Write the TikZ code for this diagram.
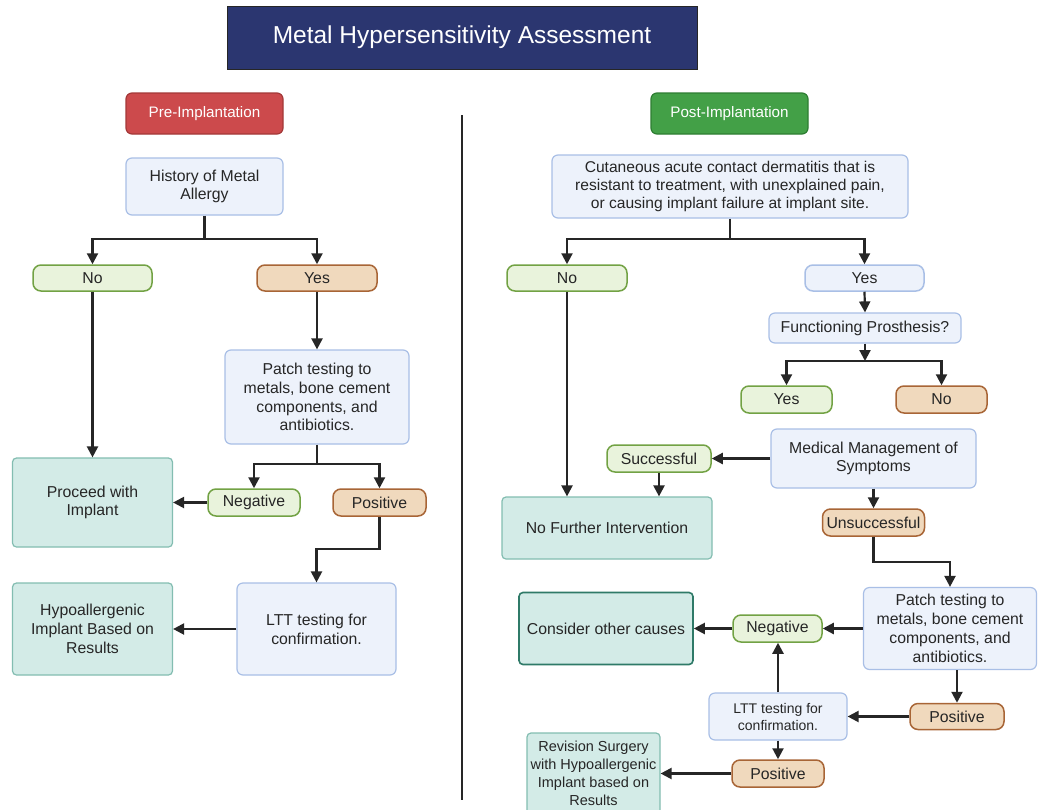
\documentclass[tikz,border=0pt]{standalone}
\usepackage{fontspec}
\setmainfont{Liberation Sans}
\usetikzlibrary{arrows.meta}
\definecolor{navy}{HTML}{2B3670}
\definecolor{redf}{HTML}{CC4A4C}
\definecolor{redd}{HTML}{A33838}
\definecolor{grnf}{HTML}{43A047}
\definecolor{grnd}{HTML}{2E7D32}
\definecolor{bluef}{HTML}{EDF2FB}
\definecolor{blued}{HTML}{A9BFE6}
\definecolor{lgf}{HTML}{E9F3DC}
\definecolor{lgd}{HTML}{72A244}
\definecolor{orf}{HTML}{F0D9BD}
\definecolor{ord}{HTML}{A86536}
\definecolor{tlf}{HTML}{D3EBE7}
\definecolor{tld}{HTML}{83BDB1}
\definecolor{tldd}{HTML}{2F7A68}
\definecolor{ink}{HTML}{262626}
\tikzset{
  base/.style={inner sep=0pt, align=center, text=ink, font=\fontsize{15.8}{18.8}\selectfont},
  titlebox/.style={base, fill=navy, draw=ink, line width=1pt, text=white, font=\fontsize{24.5}{28}\selectfont},
  hdrred/.style={base, fill=redf, draw=redd, line width=1.2pt, rounded corners=6pt, text=white, font=\fontsize{15.2}{17}\selectfont},
  hdrgrn/.style={base, fill=grnf, draw=grnd, line width=1.2pt, rounded corners=6pt, text=white, font=\fontsize{15.2}{17}\selectfont},
  bluebox/.style={base, fill=bluef, draw=blued, line width=1.2pt, rounded corners=6pt},
  yespill/.style={base, fill=lgf, draw=lgd, line width=1.5pt, rounded corners=8pt},
  nopill/.style={base, fill=orf, draw=ord, line width=1.5pt, rounded corners=8pt},
  bluepill/.style={base, fill=bluef, draw=blued, line width=1.5pt, rounded corners=8pt},
  tealbox/.style={base, fill=tlf, draw=tld, line width=1.2pt, rounded corners=4pt},
  arr/.style={draw=ink, line width=2.2pt, -{Triangle[length=11pt,width=11pt]}},
  ln/.style={draw=ink, line width=2.2pt}
}
\begin{document}
\begin{tikzpicture}[x=1pt,y=-1pt]
\useasboundingbox[fill=white] (0,0) rectangle (1039,809);
% title and headers
\node[titlebox, minimum width=470, minimum height=63] (title) at (462,37.5) {Metal Hypersensitivity Assessment};
\node[hdrred, minimum width=157, minimum height=41] (pre) at (204.5,113.5) {Pre-Implantation};
\node[hdrgrn, minimum width=157, minimum height=41] (post) at (729.5,113.5) {Post-Implantation};
\coordinate (dtop) at (462,115);
\coordinate (dbot) at (462,800);
\draw[ink, line width=1.5pt] (dtop) -- (dbot);

% left side
\node[bluebox, minimum width=157, minimum height=57] (hist) at (204.5,186.5) {History of Metal\\Allergy};
\node[yespill, minimum width=119, minimum height=26] (noL) at (92.5,278) {No};
\node[nopill, minimum width=120, minimum height=26] (yesL) at (317,278) {Yes};
\node[bluebox, minimum width=184, minimum height=94] (patchL) at (317,397) {Patch testing to\\metals, bone cement\\components, and\\antibiotics.};
\node[tealbox, minimum width=160, minimum height=89] (proceed) at (92.5,502.5) {Proceed with\\Implant};
\node[yespill, minimum width=92, minimum height=27] (negL) at (254,502.5) {Negative};
\node[nopill, minimum width=93, minimum height=27] (posL) at (379.5,502.5) {Positive};
\node[bluebox, minimum width=159, minimum height=92] (lttL) at (316.5,629) {LTT testing for\\confirmation.};
\node[tealbox, minimum width=160, minimum height=92] (hypo) at (92.5,629) {Hypoallergenic\\Implant Based on\\Results};

\coordinate (j1) at (204.5,239);
\draw[ln] (hist.south) -- (j1);
\draw[arr] (j1) -| (noL.north);
\draw[arr] (j1) -| (yesL.north);
\draw[arr] (yesL.south) -- (patchL.north);
\draw[arr] (noL.south) -- (noL.south |- proceed.north);
\coordinate (j2) at (317,464);
\draw[ln] (patchL.south) -- (j2);
\draw[arr] (j2) -| (negL.north);
\draw[arr] (j2) -| (posL.north);
\draw[arr] (negL.west) -- (proceed.east);
\coordinate (j3) at (379.5,549);
\draw[arr] (posL.south) -- (j3) -| (lttL.north);
\draw[arr] (lttL.west) -- (hypo.east);

% right side
\node[bluebox, minimum width=356, minimum height=63, font=\fontsize{15.6}{18}\selectfont] (cut) at (730,186.5) {Cutaneous acute contact dermatitis that is\\resistant to treatment, with unexplained pain,\\or causing implant failure at implant site.};
\node[yespill, minimum width=120, minimum height=26] (noR) at (567,278) {No};
\node[bluepill, minimum width=119, minimum height=26] (yesR) at (864.5,278) {Yes};
\node[bluebox, minimum width=192, minimum height=30] (func) at (865,328) {Functioning Prosthesis?};
\node[yespill, minimum width=91, minimum height=27] (yesI) at (786.5,399.5) {Yes};
\node[nopill, minimum width=91, minimum height=27] (noI) at (941.5,399.5) {No};
\node[bluebox, minimum width=205, minimum height=59] (med) at (873.5,458.5) {Medical Management of\\Symptoms};
\node[yespill, minimum width=104, minimum height=27] (succ) at (659,458.5) {Successful};
\node[tealbox, minimum width=210, minimum height=62] (nofur) at (607,528) {No Further Intervention};
\node[nopill, minimum width=102, minimum height=27] (unsucc) at (873.5,522.5) {Unsuccessful};
\node[bluebox, minimum width=173, minimum height=82] (patchR) at (950,628.5) {Patch testing to\\metals, bone cement\\components, and\\antibiotics.};
\node[yespill, minimum width=89, minimum height=27] (negR) at (777.5,628.5) {Negative};
\node[tealbox, draw=tldd, line width=1.6pt, minimum width=174, minimum height=72] (consider) at (606,628.5) {Consider other causes};
\node[nopill, minimum width=94, minimum height=26] (posR1) at (957,716.5) {Positive};
\node[bluebox, minimum width=138, minimum height=47, font=\fontsize{14}{17}\selectfont] (lttR) at (778,716.5) {LTT testing for\\confirmation.};
\node[nopill, minimum width=92, minimum height=27] (posR2) at (778,773.5) {Positive};
\node[tealbox, minimum width=133, minimum height=81, font=\fontsize{14.5}{18}\selectfont] (rev) at (593.5,773.5) {Revision Surgery\\with Hypoallergenic\\Implant based on\\Results};

\coordinate (j4) at (730,239);
\draw[ln] (cut.south) -- (j4);
\draw[arr] (j4) -| (noR.north);
\draw[arr] (j4) -| (yesR.north);
\draw[arr] (yesR.south) -- (func.north);
\coordinate (j5) at (865,361);
\draw[arr] (func.south) -- (j5);
\draw[arr] (j5) -| (yesI.north);
\draw[arr] (j5) -| (noI.north);
\draw[arr] (noR.south) -- (noR.south |- nofur.north);
\draw[arr] (med.west) -- (succ.east);
\draw[arr] (succ.south) -- (succ.south |- nofur.north);
\draw[arr] (med.south) -- (unsucc.north);
\coordinate (j6) at (873.5,562);
\draw[arr] (unsucc.south) -- (j6) -| (patchR.north);
\draw[arr] (patchR.west) -- (negR.east);
\draw[arr] (negR.west) -- (consider.east);
\draw[arr] (patchR.south -| posR1.north) -- (posR1.north);
\draw[arr] (posR1.west) -- (lttR.east);
\draw[arr] (lttR.north) -- (lttR.north |- negR.south);
\draw[arr] (lttR.south) -- (posR2.north);
\draw[arr] (posR2.west) -- (rev.east);
\end{tikzpicture}
\end{document}
